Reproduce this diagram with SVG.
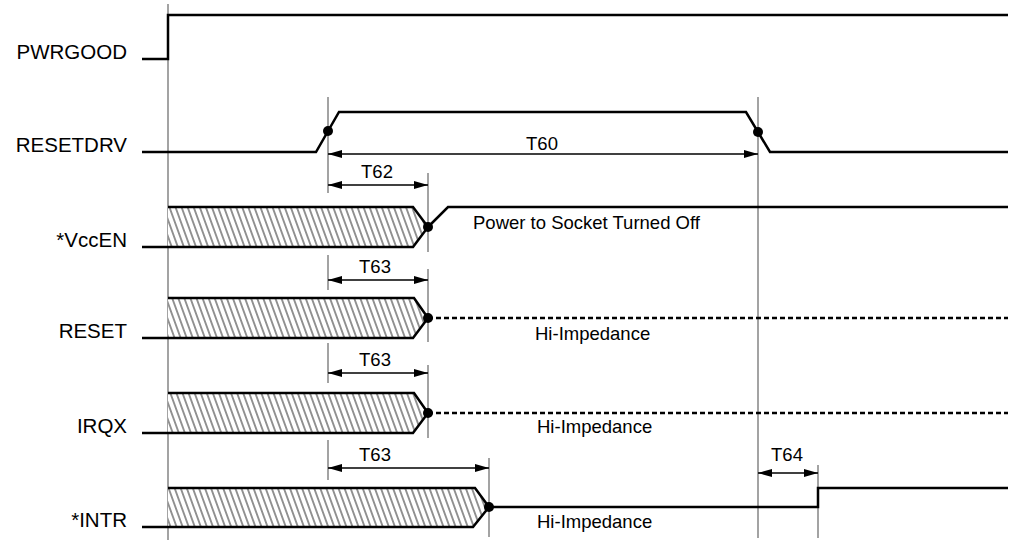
<svg xmlns="http://www.w3.org/2000/svg" width="1011" height="540" viewBox="0 0 1011 540">
<style>
.sig{fill:none;stroke:#000;stroke-width:2.5;stroke-linejoin:miter}
.dash{fill:none;stroke:#000;stroke-width:2.5;stroke-dasharray:5 3}
.guide{stroke:#666;stroke-width:1.2;fill:none}
.dim{stroke:#000;stroke-width:1.3;fill:none;marker-start:url(#ah);marker-end:url(#ah)}
.lbl{font-family:"Liberation Sans",Arial,sans-serif;font-size:20.5px;fill:#000;text-anchor:end}
.ann{font-family:"Liberation Sans",Arial,sans-serif;font-size:18.5px;fill:#000}
.mid{text-anchor:middle}
.hatch{fill:url(#hp);stroke:none}
.dot{fill:#000}
</style>
<defs>
<pattern id="hp" patternUnits="userSpaceOnUse" width="5.7" height="10" patternTransform="rotate(-20)">
<rect width="5.7" height="10" fill="#fff"/>
<line x1="2.85" y1="0" x2="2.85" y2="10" stroke="#000" stroke-width="0.85"/>
</pattern>
<marker id="ah" viewBox="0 0 14 8" refX="14" refY="4" markerWidth="14" markerHeight="8" markerUnits="userSpaceOnUse" orient="auto-start-reverse">
<path d="M0,0 L14,4 L0,8 Z" fill="#000"/>
</marker>
</defs>
<rect width="1011" height="540" fill="#fff"/>

<g id="guides">
<line class="guide" x1="168" y1="4" x2="168" y2="540"/>
<line class="guide" x1="328" y1="97" x2="328" y2="193"/>
<line class="guide" x1="328" y1="255" x2="328" y2="290"/>
<line class="guide" x1="328" y1="343" x2="328" y2="383"/>
<line class="guide" x1="328" y1="440" x2="328" y2="480"/>
<line class="guide" x1="428" y1="173" x2="428" y2="252"/>
<line class="guide" x1="428" y1="269" x2="428" y2="342"/>
<line class="guide" x1="428" y1="365" x2="428" y2="438"/>
<line class="guide" x1="489" y1="458" x2="489" y2="537"/>
<line class="guide" x1="758" y1="97" x2="758" y2="538"/>
<line class="guide" x1="818" y1="465" x2="818" y2="538"/>
</g>

<g id="PWRGOOD">
<text class="lbl" x="127" y="59">PWRGOOD</text>
<path class="sig" d="M142,59 H168 V15 H1008"/>
</g>

<g id="RESETDRV">
<text class="lbl" x="127" y="152">RESETDRV</text>
<path class="sig" d="M142,152 H316 L339,112 H746 L770,152 H1008"/>
<circle class="dot" cx="328" cy="131" r="5"/>
<circle class="dot" cx="758" cy="132" r="5"/>
</g>

<g id="VccEN">
<text class="lbl" x="127" y="247">*VccEN</text>
<polygon class="hatch" points="168,207 413,207 428,227 413,247 168,247"/>
<path class="sig" d="M142,247 H413 L428,227 L413,207 H168"/>
<path class="sig" d="M428,227 L448,207 H1008"/>
<circle class="dot" cx="428" cy="227" r="5"/>
<text class="ann" x="473" y="229">Power to Socket Turned Off</text>
</g>

<g id="RESET">
<text class="lbl" x="127" y="338">RESET</text>
<polygon class="hatch" points="168,298 414,298 428,318 413,338 168,338"/>
<path class="sig" d="M142,338 H413 L428,318 L414,298 H168"/>
<path class="dash" d="M428,318 H1008"/>
<circle class="dot" cx="428" cy="318" r="5"/>
<text class="ann" x="535" y="340">Hi-Impedance</text>
</g>

<g id="IRQX">
<text class="lbl" x="127" y="433">IRQX</text>
<polygon class="hatch" points="168,393 414,393 428,413 413,433 168,433"/>
<path class="sig" d="M142,433 H413 L428,413 L414,393 H168"/>
<path class="dash" d="M428,413 H1008"/>
<circle class="dot" cx="428" cy="413" r="5"/>
<text class="ann" x="537" y="433">Hi-Impedance</text>
</g>

<g id="INTR">
<text class="lbl" x="127" y="527">*INTR</text>
<polygon class="hatch" points="168,488 475,488 489,507 473,527 168,527"/>
<path class="sig" d="M142,527 H473 L489,507 L475,488 H168"/>
<path class="sig" d="M489,507 H818 V488 H1008"/>
<circle class="dot" cx="489" cy="507" r="5"/>
<text class="ann" x="537" y="528">Hi-Impedance</text>
</g>

<g id="connectors">
<line class="dim" x1="328" y1="154" x2="758" y2="154"/>
<text class="ann mid" x="542" y="150">T60</text>
<line class="dim" x1="328" y1="185" x2="428" y2="185"/>
<text class="ann mid" x="377" y="178">T62</text>
<line class="dim" x1="328" y1="280" x2="428" y2="280"/>
<text class="ann mid" x="375" y="273">T63</text>
<line class="dim" x1="328" y1="373" x2="428" y2="373"/>
<text class="ann mid" x="375" y="366">T63</text>
<line class="dim" x1="328" y1="468" x2="489" y2="468"/>
<text class="ann mid" x="375" y="461">T63</text>
<line class="dim" x1="758" y1="473" x2="818" y2="473"/>
<text class="ann mid" x="787" y="461">T64</text>
</g>
</svg>
